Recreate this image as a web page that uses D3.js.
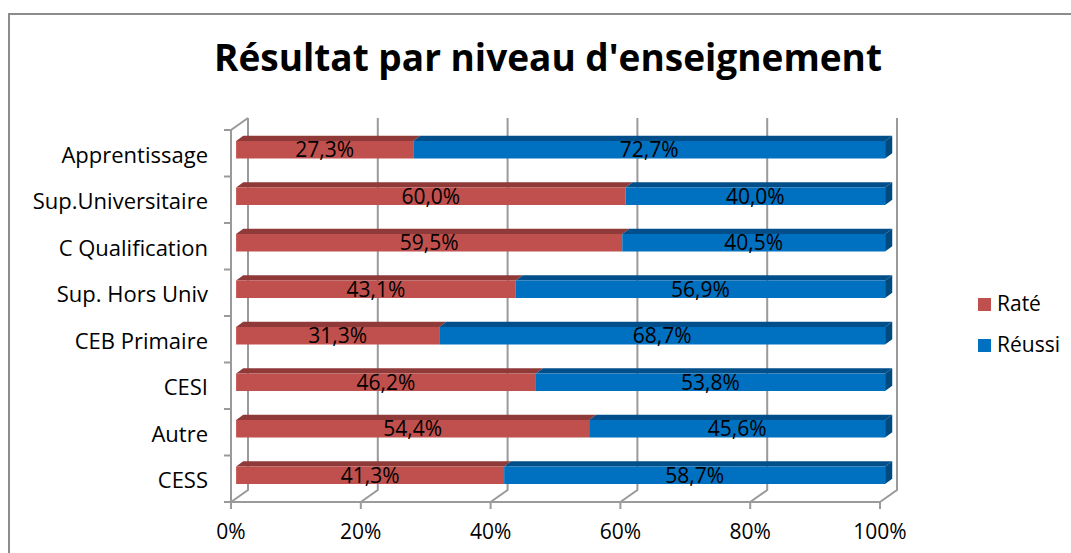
<!DOCTYPE html>
<html><head><meta charset="utf-8">
<script src="https://cdn.jsdelivr.net/npm/d3@7"></script>
<style>body{margin:0;background:#fff}svg{display:block}</style>
</head><body>
<script>
const categories = ["Apprentissage","Sup.Universitaire","C Qualification","Sup. Hors Univ","CEB Primaire","CESI","Autre","CESS"];
const rate   = [27.3, 60.0, 59.5, 43.1, 31.3, 46.2, 54.4, 41.3];
const reussi = [72.7, 40.0, 40.5, 56.9, 68.7, 53.8, 45.6, 58.7];
const seriesNames = ["Raté","Réussi"];
const xTicks = [0, 20, 40, 60, 80, 100];
const title = "Résultat par niveau d'enseignement";

const W = 1071, H = 553;
const font = "'Open Sans', sans-serif";
const colors = {front:["#C0504D","#0070C0"], top:["#8F3A38","#004F8A"], side:["#004A80"]};
const gridCol = "#9a9a9a";

const svg = d3.select("body").append("svg").attr("width", W).attr("height", H);

// outer border
svg.append("rect").attr("x", 9).attr("y", 14).attr("width", W + 10).attr("height", H + 10)
  .attr("fill", "none").attr("stroke", "#8c8c8c").attr("stroke-width", 2);

// title
svg.append("text").attr("x", 548).attr("y", 71).attr("text-anchor", "middle")
  .attr("font-family", font).attr("font-weight", "bold").attr("font-size", 37).text(title);

const x = d3.scaleLinear().domain([0, 100]).range([231, 880]);
const y = d3.scaleBand().domain(categories).range([130, 502]);
const DX = 17, DY = -12;       // depth vector (front -> back wall)
const P = (v, yy, t) => [x(v) + DX * t, yy + DY * t];
const yBottom = 502, yTop = 130;

const g = svg.append("g");
// back wall gridlines + floor diagonals
xTicks.forEach(v => {
  const [bx, by] = P(v, yBottom, 1);
  g.append("path").attr("d", `M${x(v)},${yBottom}L${bx},${by}L${bx},${P(v, yTop, 1)[1]}`)
    .attr("fill", "none").attr("stroke", gridCol).attr("stroke-width", 2);
});
// front axes
g.append("path").attr("d", `M${x(0)},${yBottom}L${x(100)},${yBottom}`).attr("stroke", gridCol).attr("stroke-width", 2);
g.append("path").attr("d", `M${x(0)},${yBottom}L${x(0)},${yTop}L${P(0, yTop, 1)[0]},${P(0, yTop, 1)[1]}`)
  .attr("fill", "none").attr("stroke", gridCol).attr("stroke-width", 2);
// left ticks
const bounds = categories.map(c => y(c)).concat([y.range()[1]]);
bounds.forEach(b => g.append("line").attr("x1", x(0) - 7).attr("x2", x(0)).attr("y1", b).attr("y2", b)
  .attr("stroke", gridCol).attr("stroke-width", 2));
// bottom ticks & labels
xTicks.forEach(v => {
  g.append("line").attr("x1", x(v)).attr("x2", x(v)).attr("y1", yBottom).attr("y2", yBottom + 7)
    .attr("stroke", gridCol).attr("stroke-width", 2);
  g.append("text").attr("x", x(v)).attr("y", 539).attr("text-anchor", "middle")
    .attr("font-family", font).attr("font-size", 21).text(v + "%");
});
// category labels
categories.forEach(c => {
  g.append("text").attr("x", 208).attr("y", y(c) + y.bandwidth() / 2 + 1.5).attr("dy", "0.36em")
    .attr("text-anchor", "end").attr("font-family", font).attr("font-size", 22).text(c);
});

// bars
const t0 = 0.3, t1 = 0.72, bh = 17.5;
const poly = pts => "M" + pts.map(p => p.join(",")).join("L") + "Z";
const bars = svg.append("g");
categories.forEach((c, i) => {
  const yc = y(c) + y.bandwidth() / 2;
  const yt = yc - bh / 2, yb = yc + bh / 2;
  const segs = [[0, rate[i]], [rate[i], rate[i] + reussi[i]]];
  segs.forEach(([a, b], s) => {
    // top face
    bars.append("path").attr("d", poly([P(a, yt, t0), P(b, yt, t0), P(b, yt, t1), P(a, yt, t1)]))
      .attr("fill", colors.top[s]);
    // front face
    bars.append("path").attr("d", poly([P(a, yt, t0), P(b, yt, t0), P(b, yb, t0), P(a, yb, t0)]))
      .attr("fill", colors.front[s]);
    const [cx, cy] = P((a + b) / 2, yc, t0);
    bars.append("text").attr("x", cx).attr("y", cy).attr("dy", "0.36em").attr("text-anchor", "middle")
      .attr("font-family", font).attr("font-size", 21).attr("fill", "#000")
      .text(d3.format(".1f")(s === 0 ? rate[i] : reussi[i]).replace(".", ",") + "%");
  });
  const e = rate[i] + reussi[i];
  bars.append("path").attr("d", poly([P(e, yt, t0), P(e, yt, t1), P(e, yb, t1), P(e, yb, t0)]))
    .attr("fill", colors.side[0]);
});

// legend
const leg = svg.append("g");
seriesNames.forEach((n, i) => {
  const ly = 298 + i * 41;
  leg.append("rect").attr("x", 978).attr("y", ly).attr("width", 13).attr("height", 13).attr("fill", colors.front[i]);
  leg.append("text").attr("x", 997).attr("y", ly + 13).attr("font-family", font).attr("font-size", 21).text(n);
});
</script>
</body></html>
